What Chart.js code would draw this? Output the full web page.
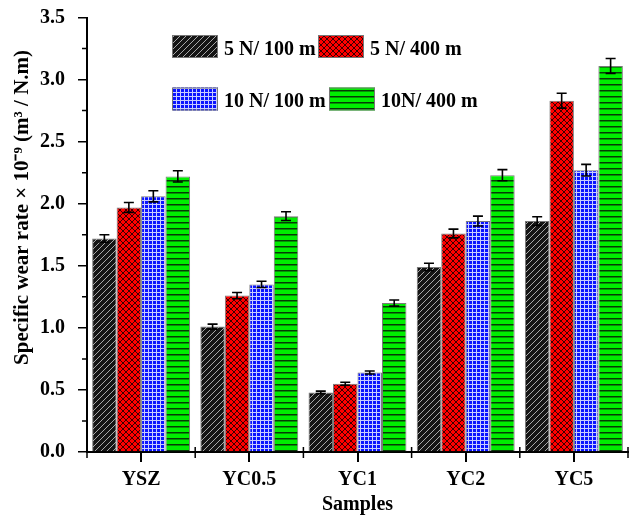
<!DOCTYPE html>
<html>
<head>
<meta charset="utf-8">
<script src="https://cdn.jsdelivr.net/npm/chart.js@4.4.0/dist/chart.umd.min.js"></script>
<style>
  html, body { margin: 0; padding: 0; background: #fff; }
  #wrap { width: 630px; height: 521px; }
</style>
</head>
<body>
<div id="wrap"><canvas id="wear"></canvas></div>
<script>
const samples = ['YSZ', 'YC0.5', 'YC1', 'YC2', 'YC5'];
const seriesNames = ['5 N/ 100 m', '5 N/ 400 m', '10 N/ 100 m', '10N/ 400 m'];

const wear5N100 = [1.72, 1.01, 0.48, 1.49, 1.86];
const wear5N400 = [1.97, 1.26, 0.55, 1.76, 2.83];
const wear10N100 = [2.06, 1.35, 0.64, 1.86, 2.27];
const wear10N400 = [2.22, 1.90, 1.20, 2.23, 3.11];

const err5N100 = [0.03, 0.02, 0.01, 0.03, 0.035];
const err5N400 = [0.04, 0.025, 0.012, 0.035, 0.06];
const err10N100 = [0.045, 0.025, 0.012, 0.04, 0.047];
const err10N400 = [0.045, 0.035, 0.025, 0.045, 0.06];

const yTitle = 'Specific wear rate \u00d7 10\u207b\u2079 (m\u00b3 / N.m)';
const serif = 'Liberation Serif';

function makePattern(kind) {
  const c = document.createElement('canvas');
  const ctx = c.getContext('2d');
  if (kind === 'diag') {
    c.width = 6; c.height = 6;
    ctx.fillStyle = '#151515';
    ctx.fillRect(0, 0, 6, 6);
    ctx.strokeStyle = '#a8a8a8';
    ctx.lineWidth = 1;
    ctx.beginPath();
    ctx.moveTo(-1, 7); ctx.lineTo(7, -1);
    ctx.moveTo(-4, 4); ctx.lineTo(4, -4);
    ctx.moveTo(2, 10); ctx.lineTo(10, 2);
    ctx.stroke();
  } else if (kind === 'cross') {
    c.width = 6; c.height = 6;
    ctx.fillStyle = '#ff0000';
    ctx.fillRect(0, 0, 6, 6);
    ctx.strokeStyle = '#3a0000';
    ctx.lineWidth = 1;
    ctx.beginPath();
    ctx.moveTo(0, 0); ctx.lineTo(6, 6);
    ctx.moveTo(6, 0); ctx.lineTo(0, 6);
    ctx.stroke();
  } else if (kind === 'grid') {
    c.width = 4; c.height = 4;
    ctx.fillStyle = '#0a14ff';
    ctx.fillRect(0, 0, 4, 4);
    ctx.fillStyle = '#c8ccff';
    ctx.fillRect(0, 0, 4, 1);
    ctx.fillRect(0, 0, 1, 4);
  } else {
    c.width = 6; c.height = 6;
    ctx.fillStyle = '#00ee00';
    ctx.fillRect(0, 0, 6, 6);
    ctx.fillStyle = '#063a06';
    ctx.fillRect(0, 0, 6, 1.5);
  }
  return ctx.createPattern(c, 'repeat');
}

const fills = [makePattern('diag'), makePattern('cross'), makePattern('grid'), makePattern('lines')];
const values = [wear5N100, wear5N400, wear10N100, wear10N400];
const errors = [err5N100, err5N400, err10N100, err10N400];

const errorBars = {
  id: 'errorBars',
  afterDatasetsDraw(chart) {
    const ctx = chart.ctx;
    const y = chart.scales.y;
    ctx.save();
    ctx.strokeStyle = '#000';
    ctx.lineWidth = 1.6;
    chart.data.datasets.forEach((ds, i) => {
      chart.getDatasetMeta(i).data.forEach((bar, j) => {
        const v = ds.data[j], e = errors[i][j];
        const top = y.getPixelForValue(v + e);
        const bot = y.getPixelForValue(v - e);
        ctx.beginPath();
        ctx.moveTo(bar.x, top); ctx.lineTo(bar.x, bot);
        ctx.moveTo(bar.x - 5, top); ctx.lineTo(bar.x + 5, top);
        ctx.moveTo(bar.x - 5, bot); ctx.lineTo(bar.x + 5, bot);
        ctx.stroke();
      });
    });
    ctx.restore();
  }
};

// minor ticks + y title (drawn here so it can sit a bit above the axis centre like the original)
const axisExtras = {
  id: 'axisExtras',
  afterDraw(chart) {
    const ctx = chart.ctx;
    const x = chart.scales.x, y = chart.scales.y;
    const a = chart.chartArea;
    ctx.save();
    ctx.strokeStyle = '#000';
    ctx.lineWidth = 1.5;
    ctx.beginPath();
    for (let v = 0.25; v < 3.5; v += 0.5) {
      const py = y.getPixelForValue(v);
      ctx.moveTo(a.left - 5, py); ctx.lineTo(a.left, py);
    }
    for (let k = 0; k <= samples.length; k++) {
      const px = x.getPixelForValue(k - 0.5);
      ctx.moveTo(px, a.bottom - 5); ctx.lineTo(px, a.bottom + 6);
    }
    ctx.stroke();

    ctx.translate(23, y.getPixelForValue(1.97));
    ctx.rotate(-Math.PI / 2);
    ctx.font = 'bold 21px "' + serif + '"';
    ctx.textAlign = 'center';
    ctx.textBaseline = 'middle';
    ctx.fillStyle = '#000';
    ctx.fillText(yTitle, 0, 0);
    ctx.restore();
  }
};

const boxLegend = {
  id: 'boxLegend',
  afterDraw(chart) {
    const ctx = chart.ctx;
    const a = chart.chartArea;
    const items = [
      [85, 17.5], [231, 17.5],
      [85, 70], [242, 70]
    ];
    ctx.save();
    ctx.font = 'bold 20px "' + serif + '"';
    ctx.textBaseline = 'alphabetic';
    items.forEach((p, i) => {
      const bx = a.left + p[0], by = a.top + p[1];
      ctx.fillStyle = fills[i];
      ctx.fillRect(bx, by, 46, 23);
      ctx.strokeStyle = '#777';
      ctx.lineWidth = 1;
      ctx.strokeRect(bx + 0.5, by + 0.5, 45, 22);
      ctx.fillStyle = '#000';
      ctx.fillText(seriesNames[i], bx + 52, by + 19.5);
    });
    ctx.restore();
  }
};

new Chart(document.getElementById('wear'), {
  type: 'bar',
  data: {
    labels: samples,
    datasets: values.map((d, i) => ({
      label: seriesNames[i],
      data: d,
      backgroundColor: fills[i],
      borderColor: '#7a7a7a',
      borderWidth: 1,
      barPercentage: 1,
      categoryPercentage: 0.905
    }))
  },
  options: {
    responsive: true,
    maintainAspectRatio: false,
    animation: false,
    layout: { padding: { top: 17.5, right: 2, left: 11, bottom: 4 } },
    plugins: {
      legend: { display: false },
      tooltip: { enabled: false }
    },
    scales: {
      x: {
        afterFit: s => { s.height = 65; s.paddingLeft = 0; s.paddingRight = 0; },
        grid: { offset: false, drawOnChartArea: false, tickLength: 10, color: '#000', lineWidth: 2 },
        border: { color: '#000', width: 2 },
        ticks: { color: '#000', padding: 6, font: { family: serif, size: 20, weight: 'bold' } },
        title: { display: true, text: 'Samples', color: '#000', padding: { top: 0, bottom: 0 },
                 font: { family: serif, size: 20, weight: 'bold' } }
      },
      y: {
        min: 0,
        max: 3.5,
        afterFit: s => { s.width = 76; s.paddingTop = 0; s.paddingBottom = 0; },
        grid: { drawOnChartArea: false, tickLength: 9, color: '#000', lineWidth: 1.5 },
        border: { color: '#000', width: 2 },
        ticks: { stepSize: 0.5, color: '#000', padding: 13,
                 callback: v => v.toFixed(1),
                 font: { family: serif, size: 20, weight: 'bold' } }
      }
    }
  },
  plugins: [errorBars, axisExtras, boxLegend]
});
</script>
</body>
</html>
